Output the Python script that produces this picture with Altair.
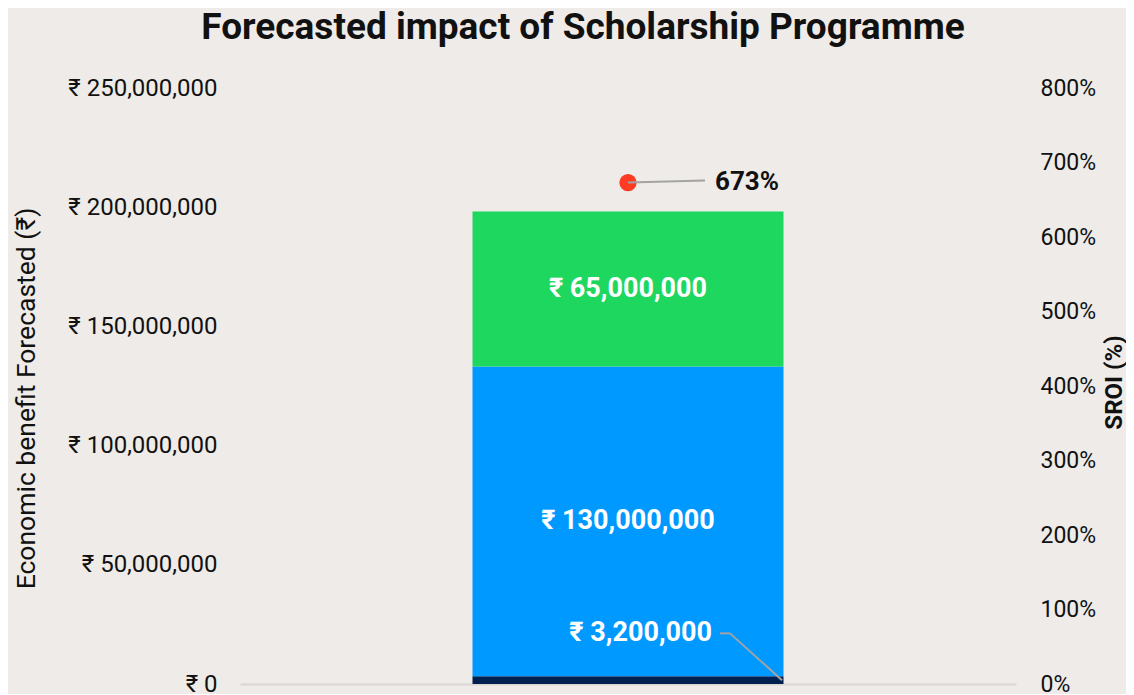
import altair as alt
import pandas as pd

# ---- data ----
category = ["Scholarship Programme"]
segment_names = ["Programme cost", "Direct benefit", "Wider benefit"]
segment_values = [3200000, 130000000, 65000000]
segment_order = [0, 1, 2]
segment_colors = ["#00214F", "#0099FF", "#1DD75F"]
sroi_percent = [673]
left_ticks = [0, 50000000, 100000000, 150000000, 200000000, 250000000]
right_ticks = [0, 100, 200, 300, 400, 500, 600, 700, 800]

df = pd.DataFrame({
    "cat": category * len(segment_names),
    "segment": segment_names,
    "value": segment_values,
    "order": segment_order,
})
df["label"] = ["₹ " + f"{v:,}" for v in segment_values]
sroi_df = pd.DataFrame({"cat": category, "sroi": sroi_percent,
                        "label": [f"{v}%" for v in sroi_percent]})

FONT = "Roboto"
BG = "#EEEBE8"
LEADER = "#A3A3A3"

yL = alt.Scale(domain=[0, 250000000], nice=False, zero=True)
yR = alt.Scale(domain=[0, 800], nice=False, zero=True)

x_ax = alt.Axis(labels=False, ticks=False, domain=True, grid=False,
                domainColor="#D9D6D2", domainWidth=2, title=None)
x_sc = alt.Scale(paddingInner=0, paddingOuter=0)


def X():
    return alt.X("cat:N", title=None, scale=x_sc, axis=x_ax)


left_axis = alt.Axis(values=left_ticks, labelExpr="'₹ ' + format(datum.value, ',')",
                     grid=False, domain=False, ticks=False, tickSize=0, labelPadding=23,
                     labelFont=FONT, labelFontSize=24, labelColor="#111111",
                     title="Economic benefit Forecasted (₹)", titleFont=FONT,
                     titleFontSize=26.5, titleFontWeight="normal", titleColor="#111111",
                     titleAngle=270, titleX=-214, titleY=310, titleBaseline="middle",
                     titleAlign="center")

right_axis = alt.Axis(orient="right", values=right_ticks, labelExpr="datum.value + '%'",
                      grid=False, domain=False, ticks=False, tickSize=0, labelPadding=24,
                      labelFont=FONT, labelFontSize=23, labelColor="#111111",
                      title="SROI (%)", titleFont=FONT, titleFontSize=24,
                      titleFontWeight="bold", titleColor="#111111",
                      titleAngle=270, titleX=98, titleY=294, titleBaseline="middle",
                      titleAlign="center")

LT = "Economic benefit Forecasted (₹)"
RT = "SROI (%)"

bars = alt.Chart(df).mark_bar(size=311).encode(
    x=X(),
    y=alt.Y("value:Q", stack="zero", scale=yL, axis=left_axis, title=LT),
    color=alt.Color("segment:N", scale=alt.Scale(domain=segment_names, range=segment_colors),
                    legend=None),
    order=alt.Order("order:Q"),
)

stacked = alt.Chart(df).transform_stack(
    stack="value", groupby=["cat"], sort=[alt.SortField("order")], as_=["y0", "y1"]
).transform_calculate(mid="(datum.y0 + datum.y1) / 2")

big_labels = stacked.transform_filter("datum.value >= 10000000").mark_text(
    font=FONT, fontWeight="bold", fontSize=27, color="white", baseline="middle"
).encode(x=X(), y=alt.Y("mid:Q", scale=yL, axis=left_axis, title=LT), text="label:N")

small = stacked.transform_filter("datum.value < 10000000")
small_label = small.mark_text(
    font=FONT, fontWeight="bold", fontSize=27, color="white", align="right",
    baseline="middle", dx=84, dy=-43
).encode(x=X(), y=alt.Y("y1:Q", scale=yL, axis=left_axis, title=LT), text="label:N")
small_lead1 = small.mark_rule(color=LEADER, strokeWidth=2, xOffset=92, x2Offset=102,
                              yOffset=-43, y2Offset=-43).encode(
    x=X(), x2="cat:N", y=alt.Y("y1:Q", scale=yL, axis=left_axis, title=LT), y2="y1:Q")
small_lead2 = small.mark_rule(color=LEADER, strokeWidth=2, xOffset=102, x2Offset=154,
                              yOffset=-43).encode(
    x=X(), x2="cat:N", y=alt.Y("y1:Q", scale=yL, axis=left_axis, title=LT), y2="mid:Q")

left = alt.layer(bars, big_labels, small_label, small_lead1, small_lead2)

point = alt.Chart(sroi_df).mark_circle(size=300, color="#FF3B24", opacity=1).encode(
    x=X(), y=alt.Y("sroi:Q", scale=yR, axis=right_axis, title=RT))
point_lead = alt.Chart(sroi_df).mark_rule(color=LEADER, strokeWidth=2, x2Offset=77,
                                          y2Offset=-2).encode(
    x=X(), x2="cat:N", y=alt.Y("sroi:Q", scale=yR, axis=right_axis, title=RT), y2="sroi:Q")
point_label = alt.Chart(sroi_df).mark_text(
    font=FONT, fontWeight="bold", fontSize=26, color="#111111", align="left",
    baseline="middle", dx=87, dy=-1
).encode(x=X(), y=alt.Y("sroi:Q", scale=yR, axis=right_axis, title=RT), text="label:N")

right = alt.layer(point, point_lead, point_label)

chart = alt.layer(left, right).resolve_scale(y="independent").properties(
    width=776, height=596,
    title=alt.TitleParams("Forecasted impact of Scholarship Programme", font=FONT,
                          fontSize=37, fontWeight="bold", color="#111111",
                          anchor="middle", frame="group", dx=-45, offset=29),
    autosize=alt.AutoSizeParams(type="none"),
    padding={"left": 232, "top": 80, "right": 110, "bottom": 10},
    background=BG,
).configure_view(stroke=None)

chart.save("out.html", embed_options={"renderer": "svg", "actions": False})
